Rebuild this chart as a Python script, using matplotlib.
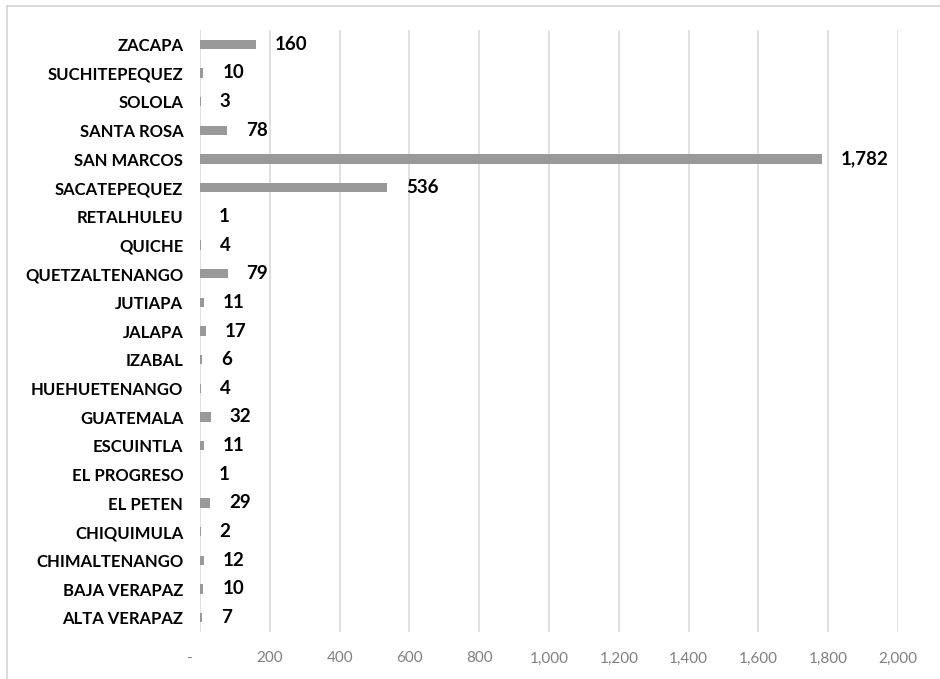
import matplotlib
matplotlib.use("Agg")
import matplotlib.pyplot as plt
from matplotlib.lines import Line2D

categories = ["ALTA VERAPAZ", "BAJA VERAPAZ", "CHIMALTENANGO", "CHIQUIMULA", "EL PETEN",
              "EL PROGRESO", "ESCUINTLA", "GUATEMALA", "HUEHUETENANGO", "IZABAL", "JALAPA",
              "JUTIAPA", "QUETZALTENANGO", "QUICHE", "RETALHULEU", "SACATEPEQUEZ",
              "SAN MARCOS", "SANTA ROSA", "SOLOLA", "SUCHITEPEQUEZ", "ZACAPA"]
values = [7, 10, 12, 2, 29, 1, 11, 32, 4, 6, 17, 11, 79, 4, 1, 536, 1782, 78, 3, 10, 160]
xticks = [0, 200, 400, 600, 800, 1000, 1200, 1400, 1600, 1800, 2000]
xticklabels = ["-     ", "200", "400", "600", "800", "1,000", "1,200", "1,400", "1,600", "1,800", "2,000"]

plt.rcParams['font.family'] = ['Lato', 'DejaVu Sans']

fig = plt.figure(figsize=(9.4, 6.79), dpi=100)
ax = fig.add_axes([200/940, 47/679, 698/940, 602/679])

y = list(range(len(categories)))
ax.barh(y, values, height=0.33, color="#999999", zorder=3)
for yi, v in zip(y, values):
    ax.annotate(f"{v:,}", xy=(v, yi), xytext=(13.5, 0), textcoords="offset points",
                ha="left", va="center", fontsize=13.5, fontweight="bold", color="#000000")

ax.set_xlim(0, 2000)
ax.set_ylim(-0.5, len(categories) - 0.5)
ax.set_yticks(y)
ax.set_yticklabels(categories, fontsize=12, fontweight="bold", color="#000000")
ax.set_xticks(xticks)
ax.set_xticklabels(xticklabels, fontsize=11, color="#7f7f7f")
ax.tick_params(axis="y", length=0, pad=12)
ax.tick_params(axis="x", length=0, pad=14)
ax.grid(axis="x", color="#d9d9d9", linewidth=1.2, zorder=0)
for s in ax.spines.values():
    s.set_visible(False)

fig.add_artist(Line2D([7/940, 7/940], [0, 1 - 6/679], color="#d4d4d4", linewidth=1.2))
fig.add_artist(Line2D([7/940, 1], [1 - 6/679, 1 - 6/679], color="#d4d4d4", linewidth=1.2))

fig.savefig("out.png", dpi=100)
